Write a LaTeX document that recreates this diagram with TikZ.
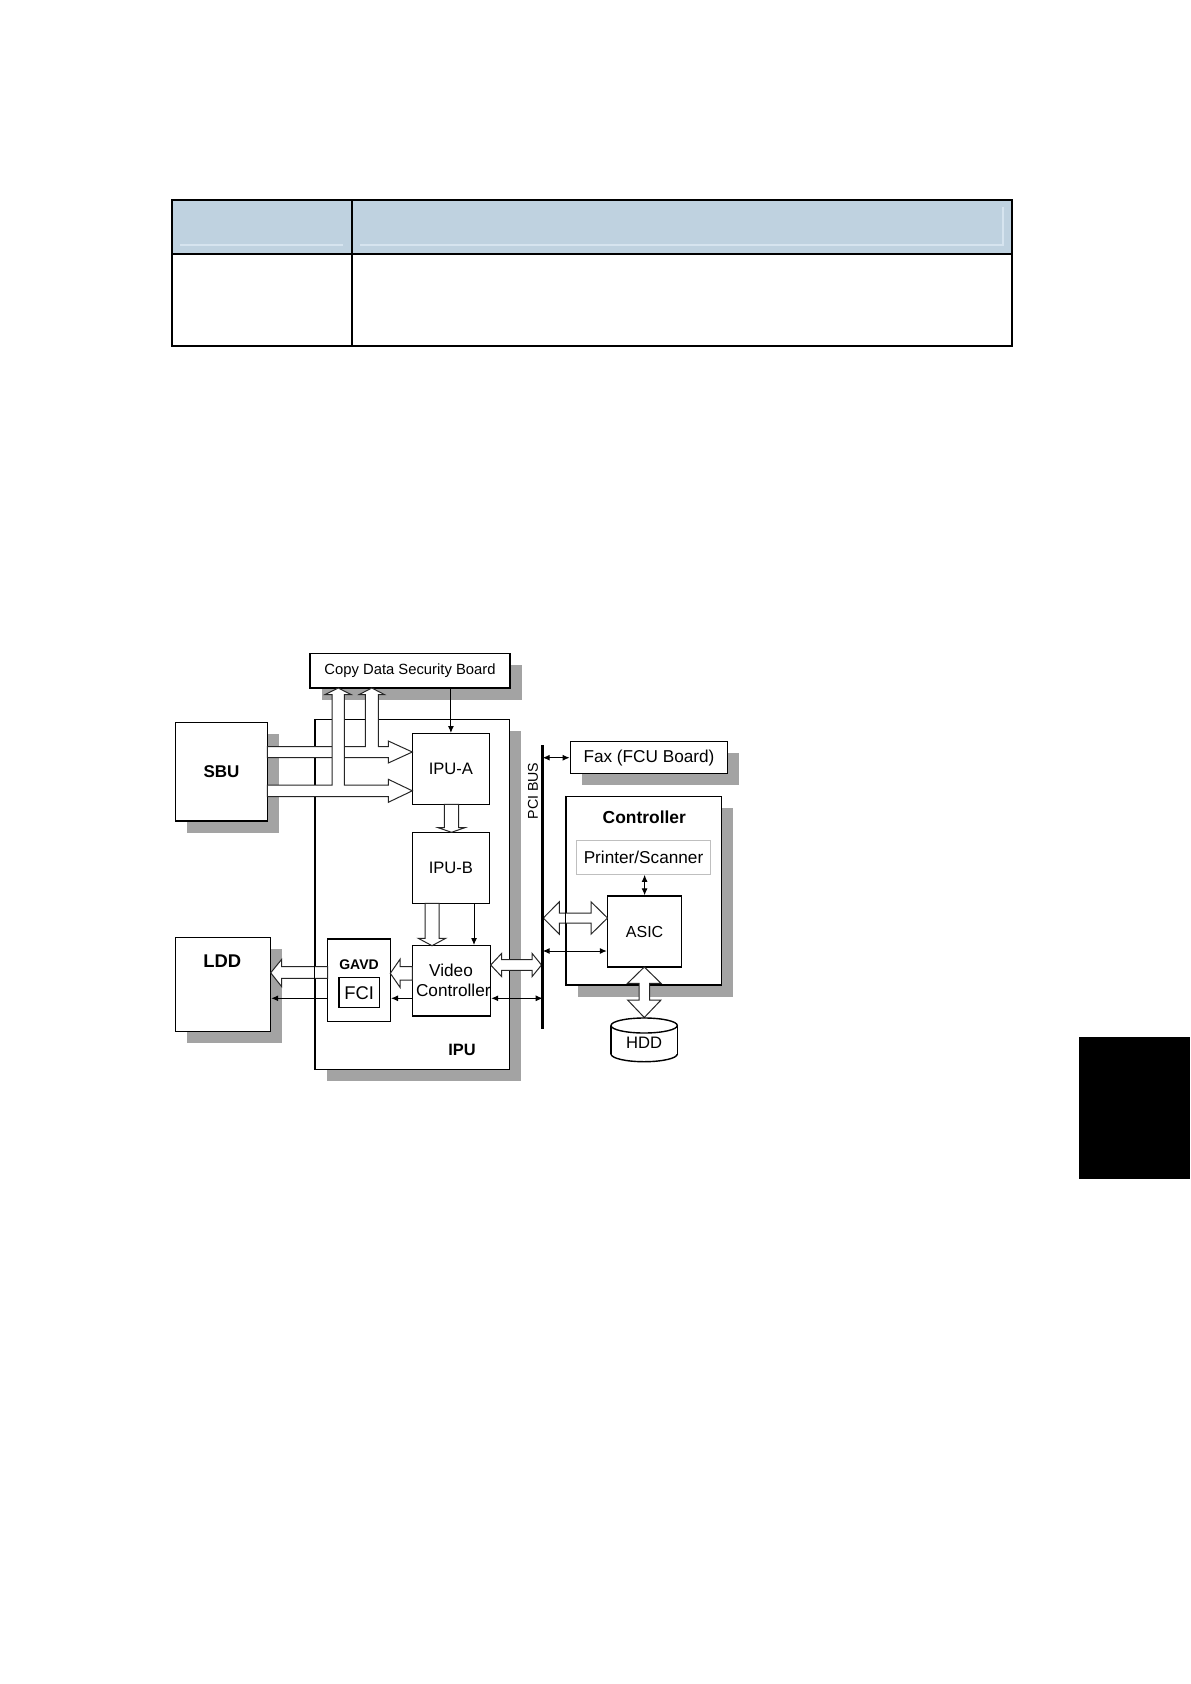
\documentclass[tikz,border=0pt]{standalone}
\usepackage{fontspec}
\setmainfont{Liberation Sans}
\usetikzlibrary{arrows.meta,shadows,calc}
\definecolor{shad}{gray}{0.64}
\definecolor{hdr}{HTML}{BFD2E0}
\definecolor{hdrl}{HTML}{D6E4EF}
\newcommand\fsz[1]{\fontsize{#1}{#1}\selectfont}
\begin{document}
\begin{tikzpicture}[x=0.5pt,y=-0.5pt,
 box/.style={draw=black, line width=0.7pt, fill=white, inner sep=0pt, rectangle},
 shbox/.style={box, drop shadow={shadow xshift=5.75pt, shadow yshift=-5.75pt, fill=shad, opacity=1}},
 fat/.style={draw=black!85, line width=0.5pt, fill=white, line join=miter},
 thinarr/.style={line width=0.5pt, -{Latex[length=3.5pt,width=3pt]}},
 thindbl/.style={line width=0.5pt, {Latex[length=3.5pt,width=3pt]}-{Latex[length=3.5pt,width=3pt]}},
 lbl/.style={inner sep=0pt, text=black}]
\useasboundingbox (0,0) rectangle (1190,1684);

% table
\fill[hdr] (171.7,200) rectangle (1011.7,254.3);
\draw[hdrl, line width=0.6pt] (180,245) -- (343,245) (360,245) -- (1003,245) -- (1003,207);
\draw[line width=1pt] (171.7,200) rectangle (1011.7,345.7);
\draw[line width=1pt] (171.7,254.3) -- (1011.7,254.3);
\draw[line width=1pt] (352,200) -- (352,345.7);

% side tab
\fill[black] (1079,1036.7) rectangle (1190,1179);

% boxes
\node[shbox, minimum width=97.15pt, minimum height=175pt] (ipu) at (412.15,894.3) {};
\node[lbl, font=\bfseries\fsz{8.2}] (ipulbl) at (462,1050) {IPU};
\node[shbox, minimum width=100pt, minimum height=17.25pt, font=\fsz{7.4}] (cdsb) at (410,670.75) {Copy Data Security Board};
\node[shbox, minimum width=45.8pt, minimum height=49.15pt, font=\bfseries\fsz{8.5}] (sbu) at (221.5,771.85) {SBU};
\node[shbox, minimum width=47.4pt, minimum height=46.8pt] (ldd) at (223.1,984.5) {};
\node[lbl, font=\bfseries\fsz{9.2}] (lddlbl) at (222.3,960.7) {LDD};
\node[box, minimum width=38.6pt, minimum height=35.3pt, font=\fsz{8.3}] (ipua) at (450.9,769) {IPU-A};
\node[box, minimum width=38.6pt, minimum height=35.5pt, font=\fsz{8.3}] (ipub) at (450.9,867.8) {IPU-B};
\node[box, minimum width=39.1pt, minimum height=35.15pt] (vc) at (451.4,980.85) {};
\node[box, minimum width=31.3pt, minimum height=41.35pt] (gavd) at (359,980.35) {};
\node[lbl, font=\bfseries\fsz{7}] (gavdlbl) at (359,964.3) {GAVD};
\node[box, minimum width=20.15pt, minimum height=15pt, font=\fsz{9.2}] (fci) at (359.15,992.7) {FCI};
\node[shbox, minimum width=78.7pt, minimum height=16pt, font=\fsz{8.6}] (fax) at (649,757.7) {Fax (FCU Board)};
\node[shbox, minimum width=77.7pt, minimum height=94.35pt] (ctrl) at (644,890.65) {};
\node[lbl, font=\bfseries\fsz{8.7}] (ctrllbl) at (644.3,817.7) {Controller};
\node[box, draw=black!25, line width=0.5pt, minimum width=67.2pt, minimum height=17.15pt, font=\fsz{8.6}] (ps) at (643.5,857.15) {Printer/Scanner};
\node[box, minimum width=37.1pt, minimum height=35.5pt, font=\fsz{8}] (asic) at (644.6,931.5) {ASIC};
\node[lbl, rotate=90, font=\fsz{7.1}] (pcilbl) at (533,791) {PCI BUS};

% fat arrows SBU -> IPU-A and CDSB
\draw[fat] (267.3,746.7) -- (365.3,746.7) -- (365.3,694.5) -- (359.3,694.5) -- (371.8,688) -- (384.3,694.5) -- (378.3,694.5) -- (378.3,746.7) -- (388.3,746.7) -- (388.3,741) -- (412.3,752) -- (388.3,763) -- (388.3,757.7) -- (267.3,757.7) -- cycle;
\draw[fat] (267.3,785) -- (332,785) -- (332,694.5) -- (325.3,694.5) -- (338.2,688) -- (351,694.5) -- (344.3,694.5) -- (344.3,785) -- (388.3,785) -- (388.3,779.3) -- (412.3,790.8) -- (388.3,802.3) -- (388.3,796.7) -- (267.3,796.7) -- cycle;
% IPU-A -> IPU-B
\draw[fat] (444.3,804.3) -- (444.3,827.7) -- (438.2,827.7) -- (451.5,832.3) -- (464.8,827.7) -- (458.7,827.7) -- (458.7,804.3) -- cycle;
% IPU-B -> VC
\draw[fat] (425,903.3) -- (425,938.3) -- (418.3,938.3) -- (432,945.7) -- (445.7,938.3) -- (439,938.3) -- (439,903.3) -- cycle;
% VC -> GAVD
\draw[fat] (412.3,966.7) -- (400,966.7) -- (400,959.3) -- (390.3,973.3) -- (400,987.3) -- (400,980) -- (412.3,980) -- cycle;
% GAVD -> LDD
\draw[fat] (327.7,966.7) -- (281.7,966.7) -- (281.7,959.3) -- (270.7,972.8) -- (281.7,986.7) -- (281.7,978.3) -- (327.7,978.3) -- cycle;
\draw[line width=0.7pt] (ipu.west |- 0,955) -- (ipu.west |- 0,990);
% VC <-> bus
\draw[fat] (490.7,965) -- (501.7,953.3) -- (501.7,959.7) -- (532,959.7) -- (532,953.3) -- (541.5,965) -- (532,976.7) -- (532,970.3) -- (501.7,970.3) -- (501.7,976.7) -- cycle;
% bus <-> ASIC
\draw[fat] (543.3,918) -- (559.3,901.8) -- (559.3,913) -- (591,913) -- (591,901.8) -- (607.5,918) -- (591,934.2) -- (591,923) -- (559.3,923) -- (559.3,934.2) -- cycle;
% ASIC <-> HDD
\draw[fat] (644.3,967) -- (661,983.3) -- (649.6,983.3) -- (649.6,1000) -- (661,1000) -- (644.3,1017.5) -- (627.6,1000) -- (639,1000) -- (639,983.3) -- (627.6,983.3) -- cycle;
\draw[line width=0.7pt] (ctrl.north west) -- (ctrl.south west);

% HDD
\draw[line width=0.7pt, fill=white] (644.15,1054) ellipse [x radius=33.15, y radius=7.7];
\fill[white] (611,1025.5) rectangle (677.3,1054);
\draw[line width=0.7pt] (611,1025.5) -- (611,1054) (677.3,1025.5) -- (677.3,1054);
\draw[line width=0.7pt, fill=white] (644.15,1025.5) ellipse [x radius=33.15, y radius=7.5];
\node[lbl, font=\fsz{8.3}] (hdd) at (644,1043) {HDD};

% VC labels
\node[lbl, font=\fsz{8.6}] (vcl1) at (451,970) {Video};
\node[lbl, font=\fsz{8.6}] (vcl2) at (453.3,990.7) {Controller};

% PCI bus
\coordinate (bustop) at (542.7,745);
\coordinate (busbot) at (542.7,1029.3);
\draw[line width=1.3pt] (bustop) -- (busbot);

% thin arrows
\draw[thinarr] (ipua.north |- cdsb.south) -- (ipua.north);
\coordinate (bvc) at ([xshift=11.55pt]ipub.south);
\draw[thinarr] (bvc) -- (bvc |- vc.north);
\draw[thinarr] (vc.west |- 0,998.3) -- (gavd.east |- 0,998.3);
\draw[thinarr] (gavd.west |- 0,998.3) -- (ldd.east |- 0,998.3);
\draw[thindbl] (vc.east |- 0,998.3) -- (bustop |- 0,998.3);
\draw[thindbl] (bustop |- fax.west) -- (fax.west);
\draw[thindbl] (bustop |- 0,951) -- (asic.west |- 0,951);
\draw[thindbl] (asic.north |- ps.south) -- (asic.north);
\end{tikzpicture}
\end{document}
